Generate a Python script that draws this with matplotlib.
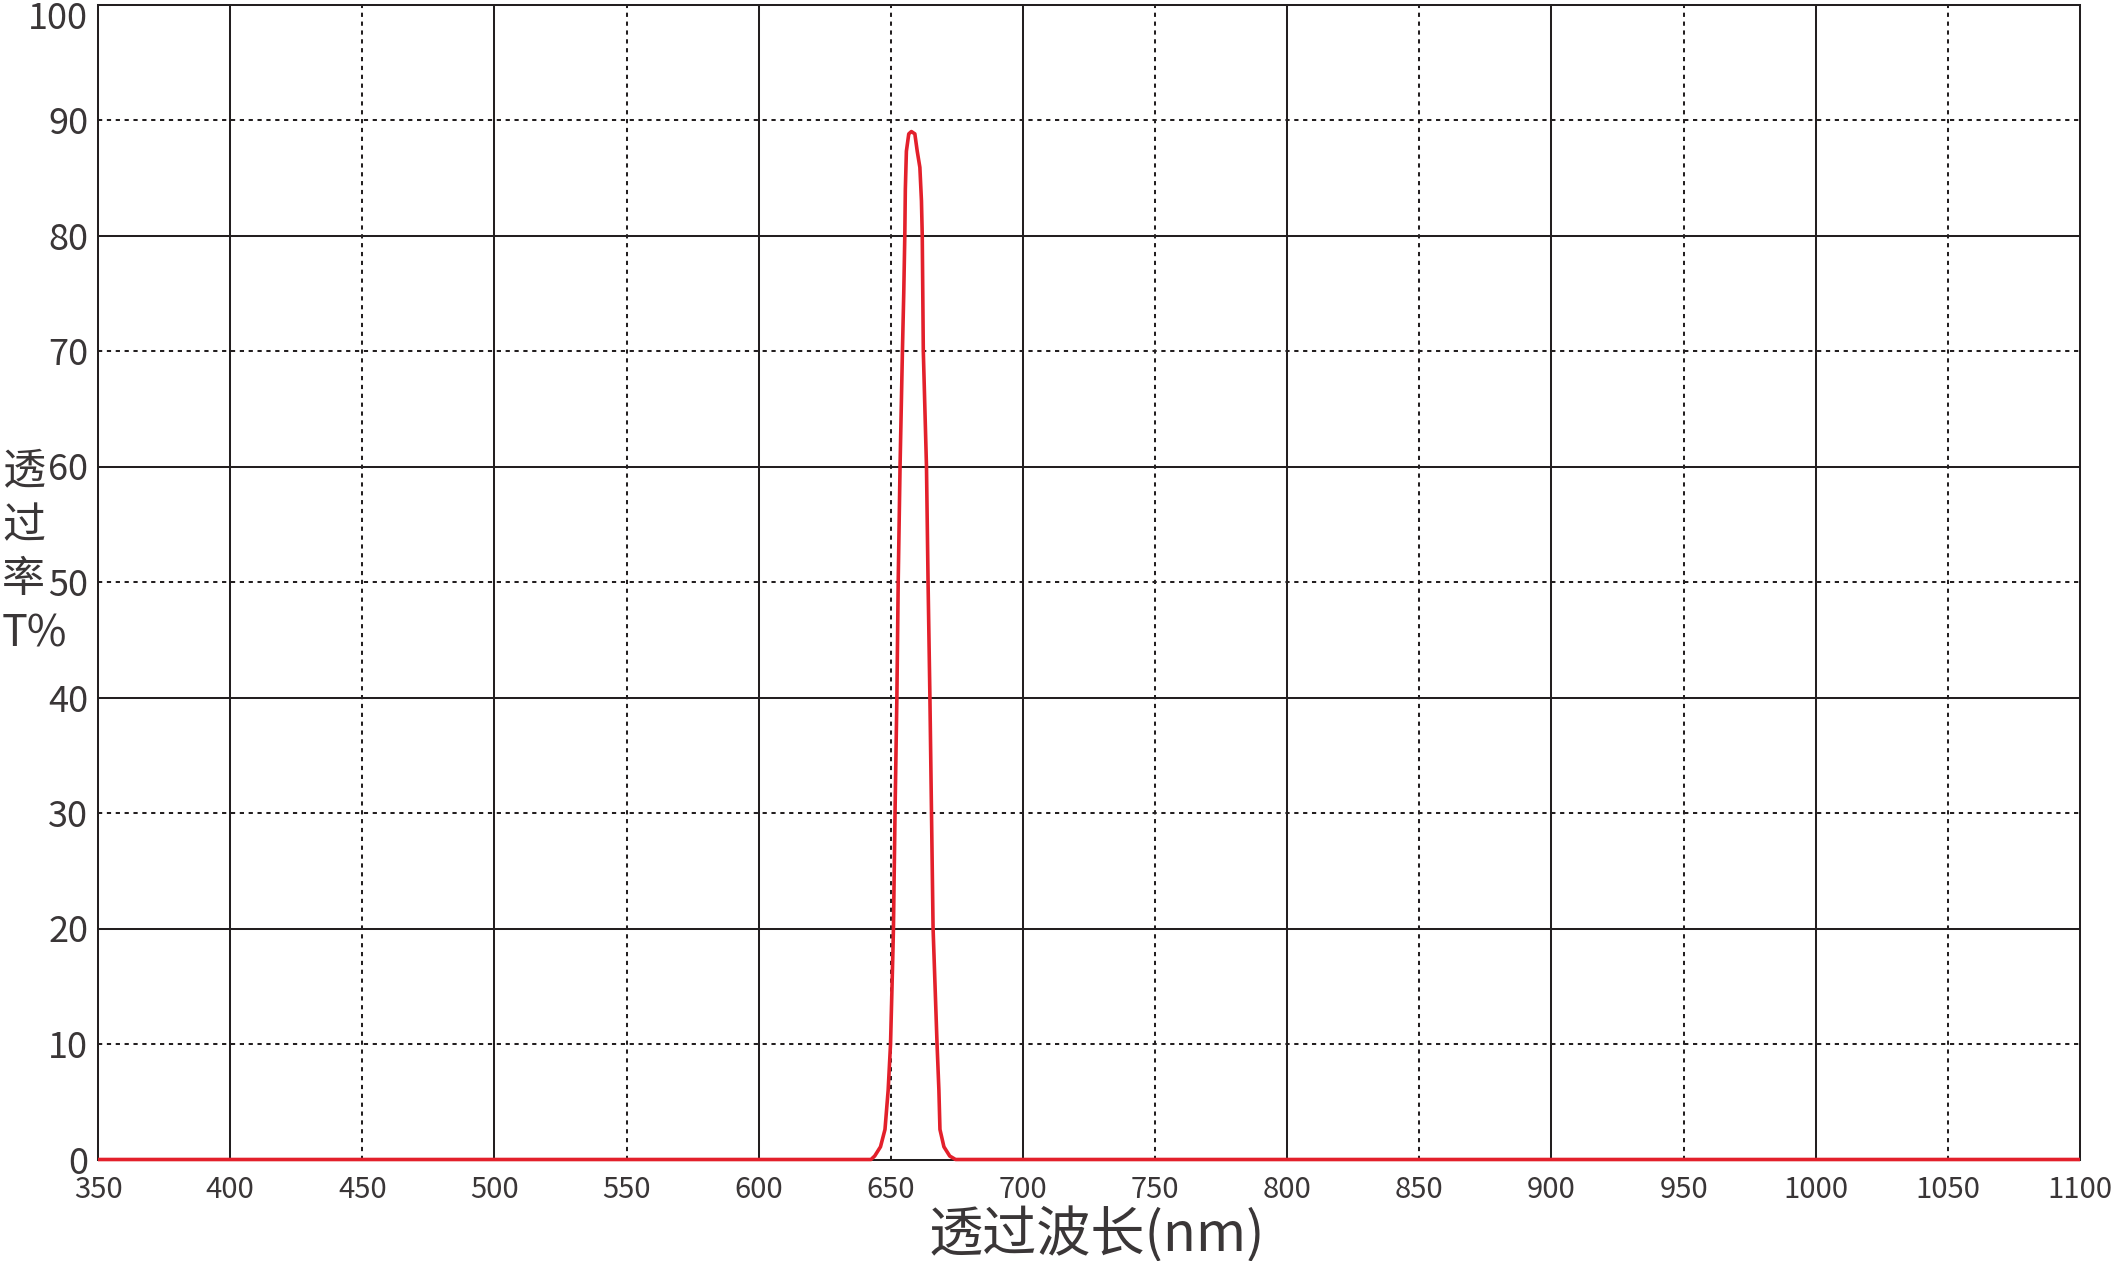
import matplotlib
matplotlib.use('Agg')
import matplotlib.pyplot as plt
from matplotlib.transforms import ScaledTranslation

# ---- data ----
wavelength = [350, 640, 642.5, 643.9, 646.1, 647.8, 649.0, 649.9, 650.8, 651.0,
              651.6, 652.3, 652.8, 653.5, 654.4, 654.9, 655.3, 655.5, 655.9, 656.8,
              657.8, 659.1, 660.0, 661.0, 661.6, 661.9, 662.1, 662.3, 663.5, 664.1,
              664.8, 665.4, 666.0, 667.5, 668.2, 668.6, 670.1, 672.3, 674.5, 680,
              1100]
transmission = [0, 0, 0, 0.3, 1.1, 2.6, 6, 10, 18, 20,
                30, 40, 50, 60, 70, 75, 80, 84, 87.3, 88.8,
                89.0, 88.8, 87.3, 85.9, 83, 80, 75, 70, 60, 50,
                40, 30, 20, 10, 6, 2.6, 1.1, 0.3, 0, 0,
                0]
x_ticks = list(range(350, 1101, 50))
x_tick_labels = [str(v) for v in x_ticks]
y_ticks = list(range(0, 101, 10))
y_tick_labels = [str(v) for v in y_ticks]
x_solid = [400, 500, 600, 700, 800, 900, 1000]
x_dashed = [450, 550, 650, 750, 850, 950, 1050]
y_solid = [20, 40, 60, 80]
y_dashed = [10, 30, 50, 70, 90]
x_label = "透过波长(nm)"
y_label = "透\n过\n率\nT%"

FONT = ['Noto Sans CJK SC', 'DejaVu Sans']
plt.rcParams['font.family'] = FONT

W, H = 2127, 1261
DPI = 100
fig = plt.figure(figsize=(W / DPI, H / DPI), dpi=DPI)
left, right = 98 / W, 2080 / W
bottom, top = 1 - 1159.5 / H, 1 - 4.5 / H
ax = fig.add_axes([left, bottom, right - left, top - bottom])

GRID = '#231f20'
TXT = '#3a3637'
LW = 1.45
for v in x_solid:
    ax.axvline(v, color=GRID, lw=LW, zorder=1)
for v in x_dashed:
    ax.axvline(v, color=GRID, lw=LW, ls=(0, (2.1, 2.3)), zorder=1)
for v in y_solid:
    ax.axhline(v, color=GRID, lw=LW, zorder=1)
for v in y_dashed:
    ax.axhline(v, color=GRID, lw=LW, ls=(0, (2.1, 2.3)), zorder=1)

ax.plot(wavelength, transmission, color='#e3202b', lw=2.6, zorder=5,
        clip_on=False, solid_joinstyle='round', solid_capstyle='butt')

ax.set_xlim(350, 1100)
ax.set_ylim(0, 100)
for s in ax.spines.values():
    s.set_color(GRID)
    s.set_linewidth(LW)
    s.set_zorder(2)

ax.set_xticks(x_ticks)
ax.set_xticklabels(x_tick_labels, fontsize=21, color=TXT, fontweight='light')
ax.set_yticks(y_ticks)
ax.set_yticklabels(y_tick_labels, fontsize=26, color=TXT, fontweight='light')
ax.tick_params(axis='x', length=0, pad=11)
ax.tick_params(axis='y', length=0, pad=7)

# shift the top "100" label down like the reference
lbl = ax.get_yticklabels()[-1]
lbl.set_transform(lbl.get_transform() + ScaledTranslation(0, -7.5 / 72, fig.dpi_scale_trans))

fig.text(2 / W, 1 - 553 / H, y_label, ha='left', va='center', fontsize=31,
         linespacing=1.3, color=TXT, fontweight='light')
fig.text(1097 / W, 1 - 1235 / H, x_label, ha='center', va='center', fontsize=39,
         color=TXT, fontweight='light')

fig.savefig('out.png', dpi=DPI)
